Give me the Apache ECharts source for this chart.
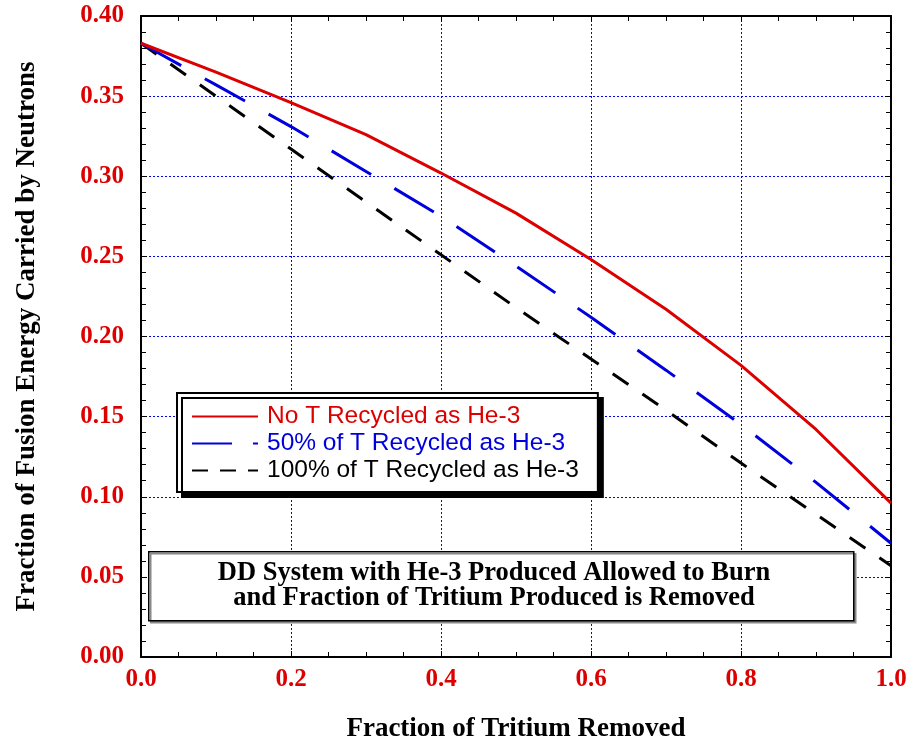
<!DOCTYPE html>
<html>
<head>
<meta charset="utf-8">
<script src="https://cdn.jsdelivr.net/npm/echarts@6/dist/echarts.min.js"></script>
<style>
html,body{margin:0;padding:0;background:#fff;}
#chart{width:914px;height:748px;}
</style>
</head>
<body>
<div id="chart"></div>
<script>
// Data
var fractionRemoved = [0.0, 0.1, 0.2, 0.3, 0.4, 0.5, 0.6, 0.7, 0.8, 0.9, 1.0];
var noRecycle      = [0.383, 0.365, 0.346, 0.326, 0.302, 0.277, 0.248, 0.217, 0.182, 0.142, 0.096];
var halfRecycle    = [0.383, 0.357, 0.331, 0.303, 0.275, 0.244, 0.212, 0.179, 0.145, 0.109, 0.071];
var fullRecycle    = [0.383, 0.350, 0.317, 0.284, 0.251, 0.218, 0.186, 0.154, 0.121, 0.089, 0.057];
var seriesNames = ['No T Recycled as He-3', '50% of T Recycled as He-3', '100% of T Recycled as He-3'];
var xTitle = 'Fraction of Tritium Removed';
var yTitle = 'Fraction of Fusion Energy Carried by Neutrons';
var noteLines = ['DD System with He-3 Produced Allowed to Burn', 'and Fraction of Tritium Produced is Removed'];

function pairs(ys){ return fractionRemoved.map(function(x,i){ return [x, ys[i]]; }); }

var RED = '#dd0000', BLUE = '#0000dd', BLACK = '#000000', GRIDBLUE = '#0000ff';
var serif = '"Liberation Serif", "Times New Roman", serif';
var sans = '"Liberation Sans", Arial, Helvetica, sans-serif';
var CLEAR = 'rgba(0,0,0,0)';

var chart = echarts.init(document.getElementById('chart'), null, {renderer:'canvas'});

function axisCommon(extra){
  var base = {
    type: 'value',
    axisLine: {show: true, onZero: false, lineStyle: {color: '#000', width: 2}},
    axisTick: {show: true, inside: true, length: 6, lineStyle: {color: '#000', width: 1}},
    minorTick: {show: true, length: 5, lineStyle: {color: '#000', width: 1}},
    splitLine: {show: false},
    minorSplitLine: {show: false}
  };
  for (var k in extra) base[k] = extra[k];
  return base;
}

var option = {
  animation: false,
  backgroundColor: '#fff',
  grid: {left: 141, right: 23, top: 16, bottom: 90, containLabel: false},
  xAxis: [
    axisCommon({
      position: 'bottom', min: 0, max: 1, interval: 0.2,
      minorTick: {show: true, splitNumber: 4, length: 5, lineStyle: {color: '#000', width: 1}},
      splitLine: {show: true, lineStyle: {color: GRIDBLUE, width: 1, type: [2, 2]}},
      axisLabel: {color: RED, fontFamily: serif, fontWeight: 'bold', fontSize: 25, margin: 10,
                  formatter: function(v){ return v.toFixed(1); }},
      name: xTitle, nameLocation: 'middle', nameGap: 59,
      nameTextStyle: {color: '#000', fontFamily: serif, fontWeight: 'bold', fontSize: 27}
    }),
    axisCommon({
      position: 'top', min: 0, max: 1, interval: 0.2,
      minorTick: {show: true, splitNumber: 4, length: 5, lineStyle: {color: '#000', width: 1}},
      axisLabel: {show: false}
    })
  ],
  yAxis: [
    axisCommon({
      position: 'left', min: 0, max: 0.4, interval: 0.05,
      minorTick: {show: true, splitNumber: 5, length: 5, lineStyle: {color: '#000', width: 1}},
      splitLine: {show: true, lineStyle: {color: GRIDBLUE, width: 1, type: [2, 2]}},
      axisLabel: {color: RED, fontFamily: serif, fontWeight: 'bold', fontSize: 25, margin: 17,
                  formatter: function(v){ return v.toFixed(2); }},
      name: yTitle, nameLocation: 'middle', nameGap: 100, nameRotate: 90,
      nameTextStyle: {color: '#000', fontFamily: serif, fontWeight: 'bold', fontSize: 27}
    }),
    axisCommon({
      position: 'right', min: 0, max: 0.4, interval: 0.05,
      minorTick: {show: true, splitNumber: 5, length: 5, lineStyle: {color: '#000', width: 1}},
      axisLabel: {show: false}
    })
  ],
  legend: {
    orient: 'vertical',
    left: 177, top: 393,
    padding: [11, 19, 9, 14],
    itemWidth: 66, itemHeight: 14, itemGap: 2,
    backgroundColor: '#fff',
    borderColor: '#000', borderWidth: 2,
    shadowColor: '#000', shadowBlur: 0, shadowOffsetX: 5, shadowOffsetY: 5,
    selectedMode: false,
    itemStyle: {color: CLEAR, borderColor: CLEAR, borderWidth: 0},
    textStyle: {fontFamily: sans, fontSize: 24.5, padding: [0, 0, 0, 4]},
    data: [
      {name: seriesNames[0], textStyle: {color: RED}},
      {name: seriesNames[1], textStyle: {color: BLUE}, lineStyle: {type: [40, 21]}},
      {name: seriesNames[2], textStyle: {color: BLACK}, lineStyle: {type: [16, 12]}}
    ]
  },
  series: [
    {name: seriesNames[2], type: 'line', data: pairs(fullRecycle), symbol: 'none',
     lineStyle: {color: BLACK, width: 3, type: [19, 17]}, itemStyle: {color: BLACK}, z: 3},
    {name: seriesNames[1], type: 'line', data: pairs(halfRecycle), symbol: 'none',
     lineStyle: {color: BLUE, width: 3, type: [46, 27]}, itemStyle: {color: BLUE}, z: 4},
    {name: seriesNames[0], type: 'line', data: pairs(noRecycle), symbol: 'none',
     lineStyle: {color: RED, width: 3, type: 'solid'}, itemStyle: {color: RED}, z: 5}
  ],
  graphic: [
    {type: 'rect', left: 148, top: 551, z: 10,
     shape: {width: 705, height: 69},
     style: {fill: '#fff', stroke: '#000', lineWidth: 1.5, shadowColor: '#888', shadowBlur: 0, shadowOffsetX: 2, shadowOffsetY: 2}},
    {type: 'text', x: 494, y: 586, z: 11,
     style: {text: noteLines.join('\n'), fill: '#000', font: 'bold 26.5px ' + serif,
             textAlign: 'center', textVerticalAlign: 'middle', lineHeight: 25}}
  ]
};
chart.setOption(option);
</script>
</body>
</html>
